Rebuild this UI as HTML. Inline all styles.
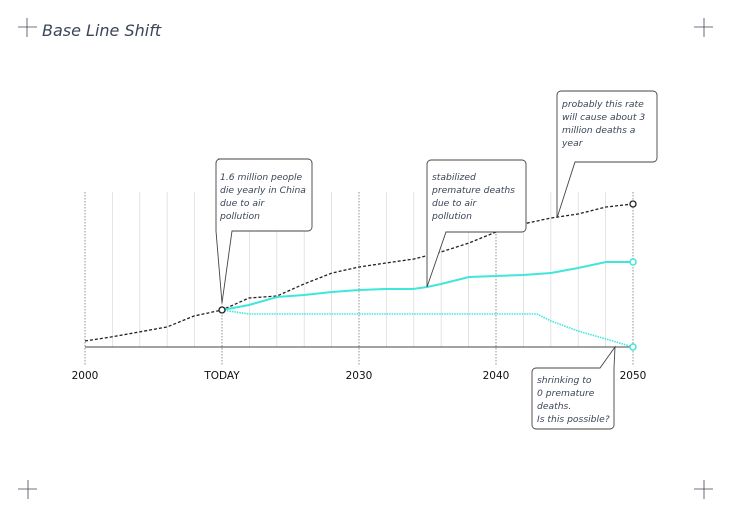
<!DOCTYPE html>
<html><head><meta charset="utf-8"><style>
html,body{margin:0;padding:0;background:#fff;}
svg{display:block;}
text{font-family:"DejaVu Sans","Liberation Sans",sans-serif;}
.c{font-style:italic;font-size:9.2px;fill:#3a4658;}
.t{font-size:10.5px;fill:#111;}
</style></head><body>
<svg width="730" height="516" viewBox="0 0 730 516" xmlns="http://www.w3.org/2000/svg">
<rect width="730" height="516" fill="#fff"/>
<g stroke="#445" stroke-width="0.8">
<path d="M18 27H37M27 18V37"/><path d="M694 27H713M704 18V37"/>
<path d="M18 489H37M28 480V499"/><path d="M694 489H713M704 480V499"/>
</g>
<text x="42" y="36" style="font-style:italic;font-size:16px;fill:#3a4658">Base Line Shift</text>
<g stroke="#ddd" stroke-width="0.8">
<path d="M112.4 192V347M139.8 192V347M167.2 192V347M194.6 192V347M249.4 192V347M276.8 192V347M304.2 192V347M331.6 192V347M386.4 192V347M413.8 192V347M441.2 192V347M468.6 192V347M523.4 192V347M550.8 192V347M578.2 192V347M605.6 192V347"/>
</g>
<g stroke="#777" stroke-width="0.8" stroke-dasharray="1.5,1.5">
<path d="M85 192V365M222 192V365M359 192V365M496 192V365M633 192V365"/>
</g>
<path d="M85 347H633" stroke="#444" stroke-width="1"/>
<g class="t" text-anchor="middle">
<text x="85" y="379">2000</text><text x="222" y="379">TODAY</text><text x="359" y="379">2030</text><text x="496" y="379">2040</text><text x="633" y="379">2050</text>
</g>
<polyline fill="none" stroke="#222" stroke-width="1.3" stroke-dasharray="3,2" points="85,341 111,337 139,332 167,327 194,316 222,310 249,298 277,296 304,284 332,273 359,267 386,263 414,259 441,252 469,243 496,232 523,224 551,218 578,214 606,207 633,204"/>
<polyline fill="none" stroke="#40e6dc" stroke-width="2" points="222,310 249,305 277,297 304,295 332,292 359,290 386,289 413,289 427,287 441,284 469,277 496,276 523,275 551,273 578,268 606,262 633,262"/>
<polyline fill="none" stroke="#40e6dc" stroke-width="1.6" stroke-dasharray="1.5,1" points="222,310 249,314 277,314 537,314 551,321 578,331 606,339 633,347"/>
<circle cx="222" cy="310" r="3" fill="#fff" stroke="#222" stroke-width="1.3"/>
<circle cx="633" cy="204" r="3" fill="#fff" stroke="#222" stroke-width="1.3"/>
<circle cx="633" cy="262" r="3" fill="#fff" stroke="#40e6dc" stroke-width="1.5"/>
<circle cx="633" cy="347" r="3" fill="#fff" stroke="#40e6dc" stroke-width="1.5"/>
<g fill="#fff" stroke="#444" stroke-width="0.9">
<path d="M218 159H308a4 4 0 0 1 4 4V227a4 4 0 0 1-4 4H232L222 303 216 231V163a4 4 0 0 1 4-4Z"/>
<path d="M431 160H522a4 4 0 0 1 4 4V228a4 4 0 0 1-4 4H446L427 287 427 232V164a4 4 0 0 1 4-4Z"/>
<path d="M561 91H653a4 4 0 0 1 4 4V158a4 4 0 0 1-4 4H575L557 218 557 162V95a4 4 0 0 1 4-4Z"/>
<path d="M536 368H600L615 347 614 368V425a4 4 0 0 1-4 4H536a4 4 0 0 1-4-4V372a4 4 0 0 1 4-4Z"/>
</g>
<g class="c">
<text x="220" y="180">1.6 million people</text><text x="220" y="193">die yearly in China</text><text x="220" y="206">due to air</text><text x="220" y="219">pollution</text>
<text x="432" y="180">stabilized</text><text x="432" y="193">premature deaths</text><text x="432" y="206">due to air</text><text x="432" y="219">pollution</text>
<text x="562" y="107">probably this rate</text><text x="562" y="120">will cause about 3</text><text x="562" y="133">million deaths a</text><text x="562" y="146">year</text>
<text x="537" y="383">shrinking to</text><text x="537" y="396">0 premature</text><text x="537" y="409">deaths.</text><text x="537" y="422">Is this possible?</text>
</g>
</svg>
</body></html>
